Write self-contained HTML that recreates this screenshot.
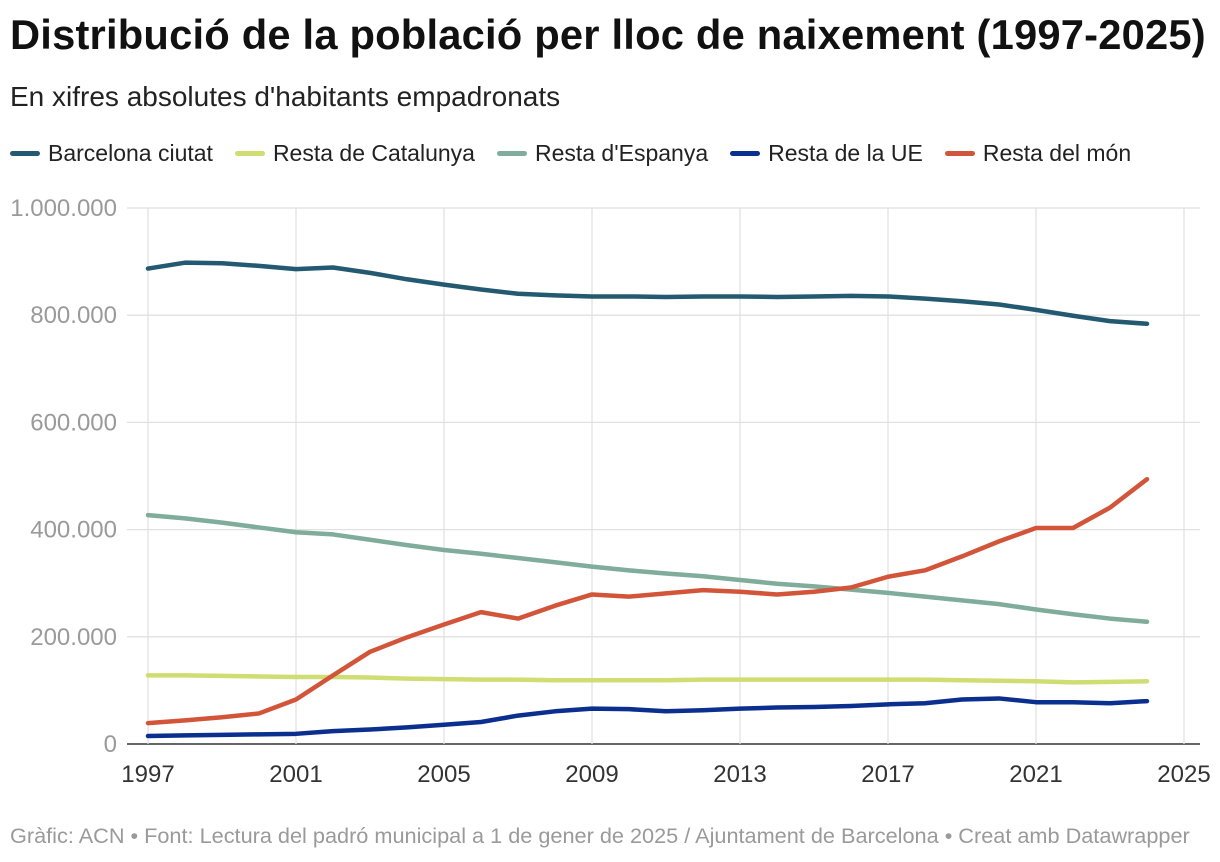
<!DOCTYPE html>
<html><head><meta charset="utf-8">
<style>
body{margin:0;background:#fff;font-family:"Liberation Sans",Arial,sans-serif;}
#wrap{position:relative;width:1220px;height:862px;overflow:hidden;}
h1{position:absolute;left:10px;top:11px;margin:0;font-size:41.7px;font-weight:bold;color:#111;letter-spacing:0.2px;white-space:nowrap;}
.sub{position:absolute;left:10px;top:81px;font-size:28px;color:#222;white-space:nowrap;}
.legend{position:absolute;left:10px;top:140px;font-size:23px;color:#222;display:flex;white-space:nowrap;}
.li{display:flex;align-items:center;margin-right:22px;}
.sw{width:30px;height:5px;border-radius:3px;margin-right:8px;}
.foot{position:absolute;left:10px;top:823px;font-size:21.7px;color:#9a9a9a;white-space:nowrap;}
svg{position:absolute;left:0;top:0;}
</style></head><body>
<div id="wrap">
<h1>Distribució de la població per lloc de naixement (1997-2025)</h1>
<div class="sub">En xifres absolutes d'habitants empadronats</div>
<div class="legend">
<div class="li"><div class="sw" style="background:#235a71"></div>Barcelona ciutat</div>
<div class="li"><div class="sw" style="background:#d0dd73"></div>Resta de Catalunya</div>
<div class="li"><div class="sw" style="background:#7fac9b"></div>Resta d'Espanya</div>
<div class="li"><div class="sw" style="background:#0b2f8f"></div>Resta de la UE</div>
<div class="li"><div class="sw" style="background:#d2553a"></div>Resta del món</div>
</div>
<svg id="chart" width="1220" height="862"></svg>
<div class="foot">Gràfic: ACN • Font: Lectura del padró municipal a 1 de gener de 2025 / Ajuntament de Barcelona • Creat amb Datawrapper</div>
</div>
<script>
const years=[1997,1998,1999,2000,2001,2002,2003,2004,2005,2006,2007,2008,2009,2010,2011,2012,2013,2014,2015,2016,2017,2018,2019,2020,2021,2022,2023,2024];
const barcelona=[887,898,897,892,886,889,879,867,857,848,840,837,835,835,834,835,835,834,835,836,835,831,826,820,810,799,789,784];
const catalunya=[128,128,127,126,125,125,124,122,121,120,120,119,119,119,119,120,120,120,120,120,120,120,119,118,117,115,116,117];
const espanya=[427,421,413,404,395,391,381,371,362,355,347,339,331,324,318,313,306,299,294,288,282,275,268,261,251,242,234,228];
const ue=[15,16,17,18,19,24,27,31,36,41,53,61,66,65,61,63,66,68,69,71,74,76,83,85,78,78,76,80];
const mon=[39,44,50,57,83,128,172,199,223,246,234,258,279,275,281,287,284,279,284,292,312,324,350,378,403,403,441,494];
const yTicks=[0,200000,400000,600000,800000,1000000];
const yTickLabels=["0","200.000","400.000","600.000","800.000","1.000.000"];
const xTicks=[1997,2001,2005,2009,2013,2017,2021,2025];
const series=[["barcelona",barcelona,"#235a71"],["catalunya",catalunya,"#d0dd73"],["espanya",espanya,"#7fac9b"],["ue",ue,"#0b2f8f"],["mon",mon,"#d2553a"]];
const NS="http://www.w3.org/2000/svg",svg=document.getElementById('chart');
const X=y=>148+(y-1997)*37, Y=v=>744-v/1000000*536;
function mk(t,a){const e=document.createElementNS(NS,t);for(const k in a)e.setAttribute(k,a[k]);svg.appendChild(e);return e;}
yTicks.forEach((v,i)=>{
 const l=mk('line',{x1:127,x2:1200,y1:Y(v),y2:Y(v),stroke:i==0?'#333':'#e1e1e1','stroke-width':i==0?1.5:1.3});
 
 
 const t=mk('text',{x:117,y:Y(v)+8,'text-anchor':'end','font-size':24,fill:'#9a9a9a'});
 t.textContent=yTickLabels[i];
 
 
});
xTicks.forEach(yr=>{
 const l=mk('line',{x1:X(yr),x2:X(yr),y1:208,y2:744,stroke:'#e1e1e1','stroke-width':1.3});
 
 
 const t=mk('text',{x:X(yr),y:782,'text-anchor':'middle','font-size':24,fill:'#333'});
 t.textContent=yr;
 
 
});
series.forEach(([n,d,c])=>{
 const p=mk('polyline',{points:d.map((v,i)=>X(years[i])+','+Y(v*1000)).join(' '),fill:'none',stroke:c,'stroke-width':4.5,'stroke-linejoin':'round','stroke-linecap':'round'});
 
 
});
</script>
</body></html>
